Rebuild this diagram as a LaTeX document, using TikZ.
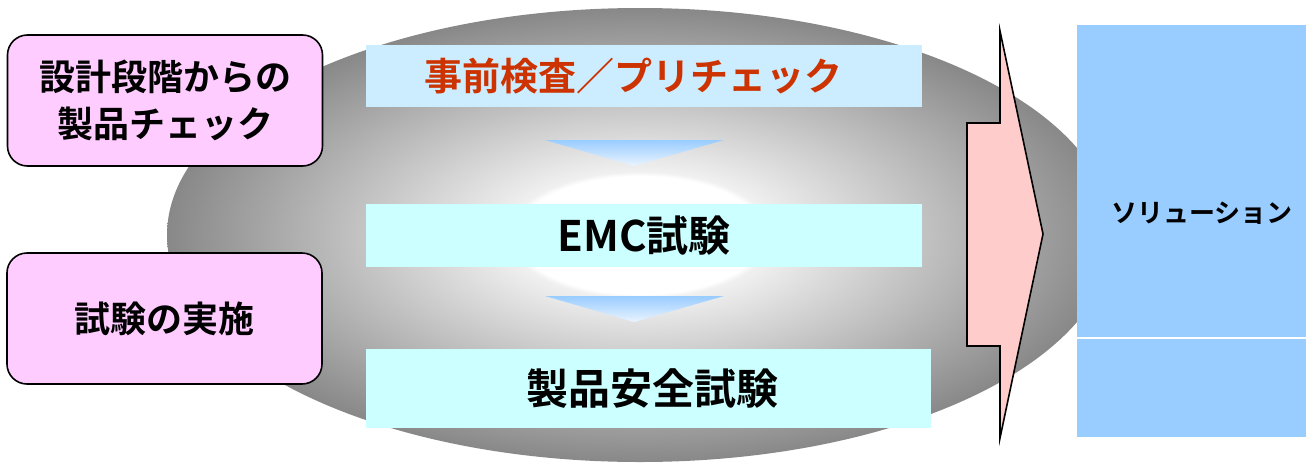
\documentclass[tikz,border=0pt]{standalone}
\usepackage{fontspec}
\setmainfont{Noto Sans CJK JP}[BoldFont={Noto Sans CJK JP Bold}]
\usetikzlibrary{positioning}
\definecolor{pinkbox}{HTML}{FFCCFF}
\definecolor{prebar}{HTML}{CCECFF}
\definecolor{cyanbar}{HTML}{CCFFFF}
\definecolor{arrowpink}{HTML}{FFCCCC}
\definecolor{solblue}{HTML}{99CCFF}
\definecolor{precheck}{HTML}{CC3300}
\definecolor{ellmid}{HTML}{F0F0F0}
\definecolor{ellrim}{HTML}{888888}
\definecolor{tritop}{HTML}{99CCFF}
\definecolor{tribot}{HTML}{EAF4FF}
\pgfdeclareradialshading{ellglow}{\pgfpointorigin}{color(0bp)=(white); color(6.5bp)=(white); color(7bp)=(ellmid); color(25bp)=(ellrim); color(50bp)=(ellrim)}

\begin{document}
\begin{tikzpicture}[x=1pt,y=-1pt,
    phasebox/.style={draw=black,line width=1.6pt,fill=pinkbox,rounded corners=20pt,
      minimum width=315pt,minimum height=131pt,inner sep=0pt,align=center,
      font=\bfseries\fontsize{36}{47}\selectfont},
    stagebar/.style={fill=#1,inner sep=0pt,font=\bfseries\fontsize{42}{44}\selectfont},
    solbox/.style={fill=solblue,inner sep=0pt,minimum width=229pt}]
\useasboundingbox (0,0) rectangle (1313,466);

%Shape: Ellipse
\shade[shading=ellglow] (640,235) ellipse [x radius=473pt, y radius=227pt];

%Shape: Bars
\node (pre) [stagebar=prebar,minimum width=556pt,minimum height=62pt,
  font=\bfseries\fontsize{38}{40}\selectfont,text=precheck] at (644,76) {\hspace*{-22pt}事前検査／プリチェック};
\node (emc) [stagebar=cyanbar,minimum width=556pt,minimum height=63pt] at (644,235.5) {EMC試験};
\node (safety) [stagebar=cyanbar,minimum width=565pt,minimum height=79pt] at (648.5,388.5) {\hspace*{8pt}製品安全試験};

%Shape: Down Triangles
\foreach \ty in {140,296}
  \shade[top color=tritop,bottom color=tribot] (545,\ty) -- (724,\ty) -- (634,\ty+26) -- cycle;

%Shape: Rounded Rect
\node (design) [phasebox] at (165,100.5) {設計段階からの\\製品チェック};
\node (testing) [phasebox] at (164.5,318.5) {試験の実施};

%Shape: Right Arrow
\draw [line width=1.6pt,fill=arrowpink] (967,123) -- (1000,123) -- (1000,31) -- (1043,234)
  -- (1000,438) -- (1000,346) -- (967,346) -- cycle;

%Shape: Solution Columns
\node (soltop) [solbox,minimum height=312pt] at (1191.5,181.2) {};
\node (solbot) [solbox,minimum height=98pt] at (1191.5,388) {};

% Text Node
\node (sollabel) [font=\bfseries\fontsize{26}{28}\selectfont] at (1202,213) {ソリューション};

\end{tikzpicture}
\end{document}
